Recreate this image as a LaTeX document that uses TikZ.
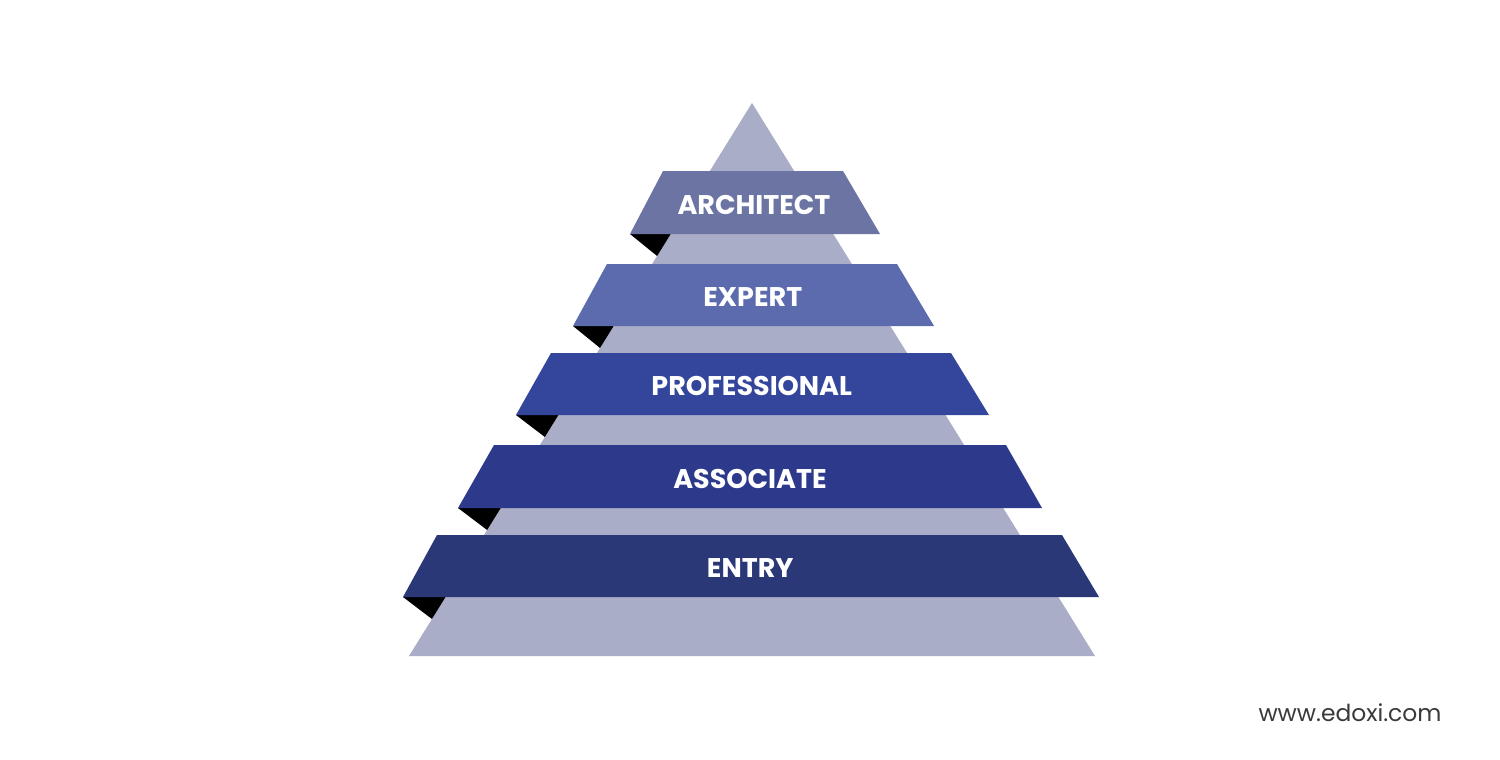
\documentclass[tikz,border=0pt]{standalone}
\usepackage{fontspec}
\setmainfont{Poppins}
\definecolor{pyr}{HTML}{A9ADC8}
\definecolor{cA}{HTML}{6B74A3}
\definecolor{cB}{HTML}{5B6BAD}
\definecolor{cC}{HTML}{33469B}
\definecolor{cD}{HTML}{2D3A8C}
\definecolor{cE}{HTML}{2A3878}
\definecolor{wm}{HTML}{3A3A3A}
\tikzset{
  fold/.style={fill=black},
  label/.style={text=white, font=\fontsize{13.5pt}{15pt}\selectfont\bfseries, inner sep=0pt, anchor=center}
}
\begin{document}
\begin{tikzpicture}[x=0.5pt,y=-0.5pt]
\useasboundingbox (0,0) rectangle (1500,760);
\fill[white] (0,0) rectangle (1500,760);
% pyramid
\fill[pyr] (752,103) -- (1095,656) -- (409,656) -- cycle;
% bands: name/text/ytop/ybot/tl/tr/bl/br/color
\foreach \n/\t/\yt/\yb/\tl/\tr/\bl/\br/\c in {
  arch/ARCHITECT/171/234/663/843/630/880/cA,
  expe/EXPERT/264/326/607/897/573/934/cB,
  prof/PROFESSIONAL/353/415/551/951/516/989/cC,
  asso/ASSOCIATE/445/508/494/1006/458/1042/cD,
  entr/ENTRY/535/597/437/1062/403/1099/cE}{
  \pgfmathsetmacro{\pa}{752-0.6203*(\yb-103)}
  \pgfmathsetmacro{\pb}{752-0.6203*(\yb+22-103)}
  \fill[fold] (\bl,\yb) -- (\pa,\yb) -- (\pb,\yb+22) -- cycle;
  \fill[\c] (\tl,\yt) -- (\tr,\yt) -- (\br,\yb) -- (\bl,\yb) -- cycle;
  \node[label] (\n) at ({(\tl+\tr+\bl+\br)/4},{(\yt+\yb)/2+2}) {\t};
}
\node[text=wm, font=\fontsize{11.7pt}{13pt}\selectfont, anchor=center, inner sep=0pt] (site) at (1350,713) {www.edoxi.com};
\end{tikzpicture}
\end{document}
